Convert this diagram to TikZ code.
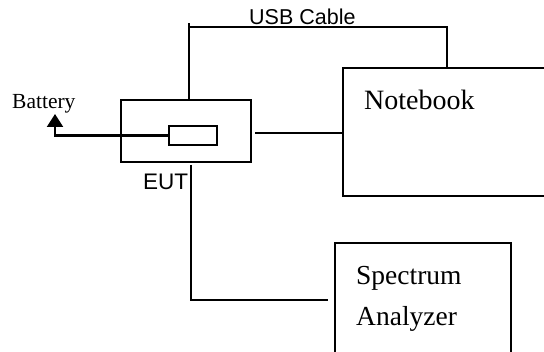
\documentclass[tikz,border=0pt]{standalone}
\usepackage{fontspec}
\setmainfont{Liberation Serif}
\setsansfont{Liberation Sans}
\usetikzlibrary{arrows.meta}
\tikzset{
  box/.style={draw, rectangle, inner sep=0pt, line width=2.2pt},
  wire/.style={line width=2.2pt},
  serif/.style={inner sep=0pt, anchor=base west, font=\rmfamily},
  sans/.style={inner sep=0pt, anchor=base west, font=\sffamily},
}
\begin{document}
\begin{tikzpicture}[x=1pt,y=-1pt]
\clip (0,0) rectangle (544,352);
\fill[white] (0,0) rectangle (544,352);
% boxes
\node[box, minimum width=130pt, minimum height=62pt] (eut) at (186,131) {};
\node[box, minimum width=48pt, minimum height=19pt] (inner) at (193,135.5) {};
\node[box, minimum width=277pt, minimum height=128pt] (nb) at (481.5,132) {};
\node[box, minimum width=176pt, minimum height=157pt] (sa) at (423,321.5) {};
% texts
\node[serif, font=\fontsize{21.5}{24}\selectfont] (battery) at (12,109) {Battery};
\node[sans, font=\sffamily\fontsize{21.5}{24}\selectfont] (usb) at (249,25) {USB Cable};
\node[sans, font=\sffamily\fontsize{22.5}{24}\selectfont] (euttext) at (143,189.5) {EUT};
\node[serif, font=\fontsize{28}{32}\selectfont] (nbtext) at (364,110) {Notebook};
\node[serif, font=\fontsize{27.5}{32}\selectfont] (spec) at (356,285) {Spectrum};
\node[serif, font=\fontsize{27.5}{32}\selectfont] (anal) at (356,326) {Analyzer};
% coordinates
\coordinate (bat) at (55,114);
\coordinate (usbtop) at (189,23.3);
\coordinate (usbR) at (447,26.7);
\coordinate (eutdown) at (191,165);
\coordinate (saend) at (328,300);
% connectors
\draw[wire, -{Triangle[width=16pt,length=13pt]}] (inner.west) -| (bat);
\draw[wire] (eut.north -| usbtop) -- (usbtop);
\draw[wire] (usbtop |- usbR) -- (usbR) -- (usbR |- nb.north);
\draw[wire] ([xshift=3pt]eut.east) ++(0,1.7) -- ([yshift=-1.7pt]eut.east -| nb.west);
\draw[wire] (eutdown) |- (saend);
\end{tikzpicture}
\end{document}
